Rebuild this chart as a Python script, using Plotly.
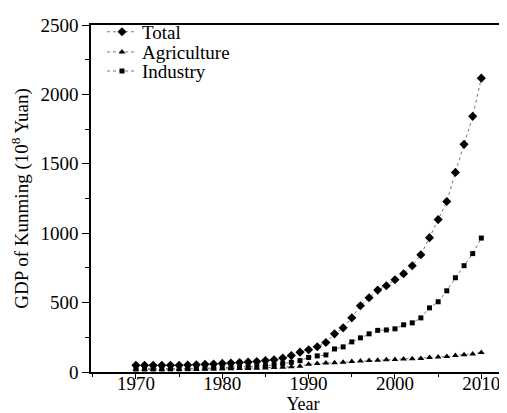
import plotly.graph_objects as go

years = list(range(1970, 2011))

total = [48, 48, 48, 48, 49, 49, 50, 52, 55, 58, 62,
         65, 68, 72, 76, 82, 88, 100, 118, 143, 160,
         182, 212, 275, 318, 390, 477, 535, 590, 621, 665,
         708, 766, 845, 968, 1098, 1228, 1438, 1640, 1842, 2117]

agriculture = [18, 18, 18, 18, 19, 19, 20, 20, 21, 22, 23,
               24, 25, 26, 27, 29, 32, 35, 38, 42, 55,
               62, 64, 67, 70, 75, 80, 82, 85, 88, 90,
               93, 95, 98, 104, 108, 112, 118, 124, 130, 140]

industry = [22, 22, 22, 22, 23, 23, 24, 25, 27, 29, 31,
            33, 35, 37, 40, 45, 52, 60, 70, 82, 105,
            116, 123, 166, 181, 217, 246, 275, 300, 303, 311,
            340, 354, 390, 462, 506, 585, 679, 766, 853, 965]

FONT = "Times New Roman, Times, serif"
FS = 19
line_style = dict(color="#777777", width=1, dash="dot")

fig = go.Figure()
fig.add_trace(go.Scatter(x=years, y=total, name="Total", mode="lines+markers",
                         line=line_style, legend="legend",
                         marker=dict(symbol="diamond", size=7, color="black")))
fig.add_trace(go.Scatter(x=years, y=agriculture, name="Agriculture", mode="lines+markers",
                         line=line_style, legend="legend2",
                         marker=dict(symbol="triangle-up", size=6, color="black")))
fig.add_trace(go.Scatter(x=years, y=industry, name="Industry", mode="lines+markers",
                         line=line_style, legend="legend3",
                         marker=dict(symbol="square", size=5, color="black")))

def leg(yc):
    return dict(x=0.026, y=yc, xanchor="left", yanchor="middle",
                bgcolor="rgba(0,0,0,0)", font=dict(family=FONT, size=FS),
                itemwidth=30)

fig.update_layout(
    width=507, height=413,
    margin=dict(l=83, r=0, t=17, b=49),
    paper_bgcolor="white", plot_bgcolor="white",
    font=dict(family=FONT, size=FS, color="black"),
    showlegend=True,
    legend=leg(0.980),
    legend2=leg(0.922),
    legend3=leg(0.867),
    xaxis=dict(range=[1964.8, 2013.9], tickvals=[1970, 1980, 1990, 2000, 2010],
               ticks="outside", ticklen=5, tickwidth=1, tickcolor="black",
               minor=dict(tickvals=[1965, 1975, 1985, 1995, 2005], ticks="outside",
                          ticklen=3, tickcolor="black"),
               showline=True, linecolor="black", linewidth=1.5, mirror=True,
               showgrid=False, zeroline=False, ticklabelstandoff=-12,
               title=dict(text="Year", standoff=0, font=dict(family=FONT, size=18)),
               tickfont=dict(family=FONT, size=FS)),
    yaxis=dict(range=[0, 2500], tickvals=[0, 500, 1000, 1500, 2000, 2500],
               ticks="outside", ticklen=7, tickwidth=1, tickcolor="black",
               minor=dict(tickvals=[250, 750, 1250, 1750, 2250], ticks="outside",
                          ticklen=4, tickcolor="black"),
               showline=True, linecolor="black", linewidth=1.5, mirror=False,
               showgrid=False, zeroline=False,
               title=dict(text="GDP of Kunming (10<sup>8</sup> Yuan)", standoff=10,
                          font=dict(family=FONT, size=FS)),
               tickfont=dict(family=FONT, size=FS)),
)

fig.write_html("out.html")
